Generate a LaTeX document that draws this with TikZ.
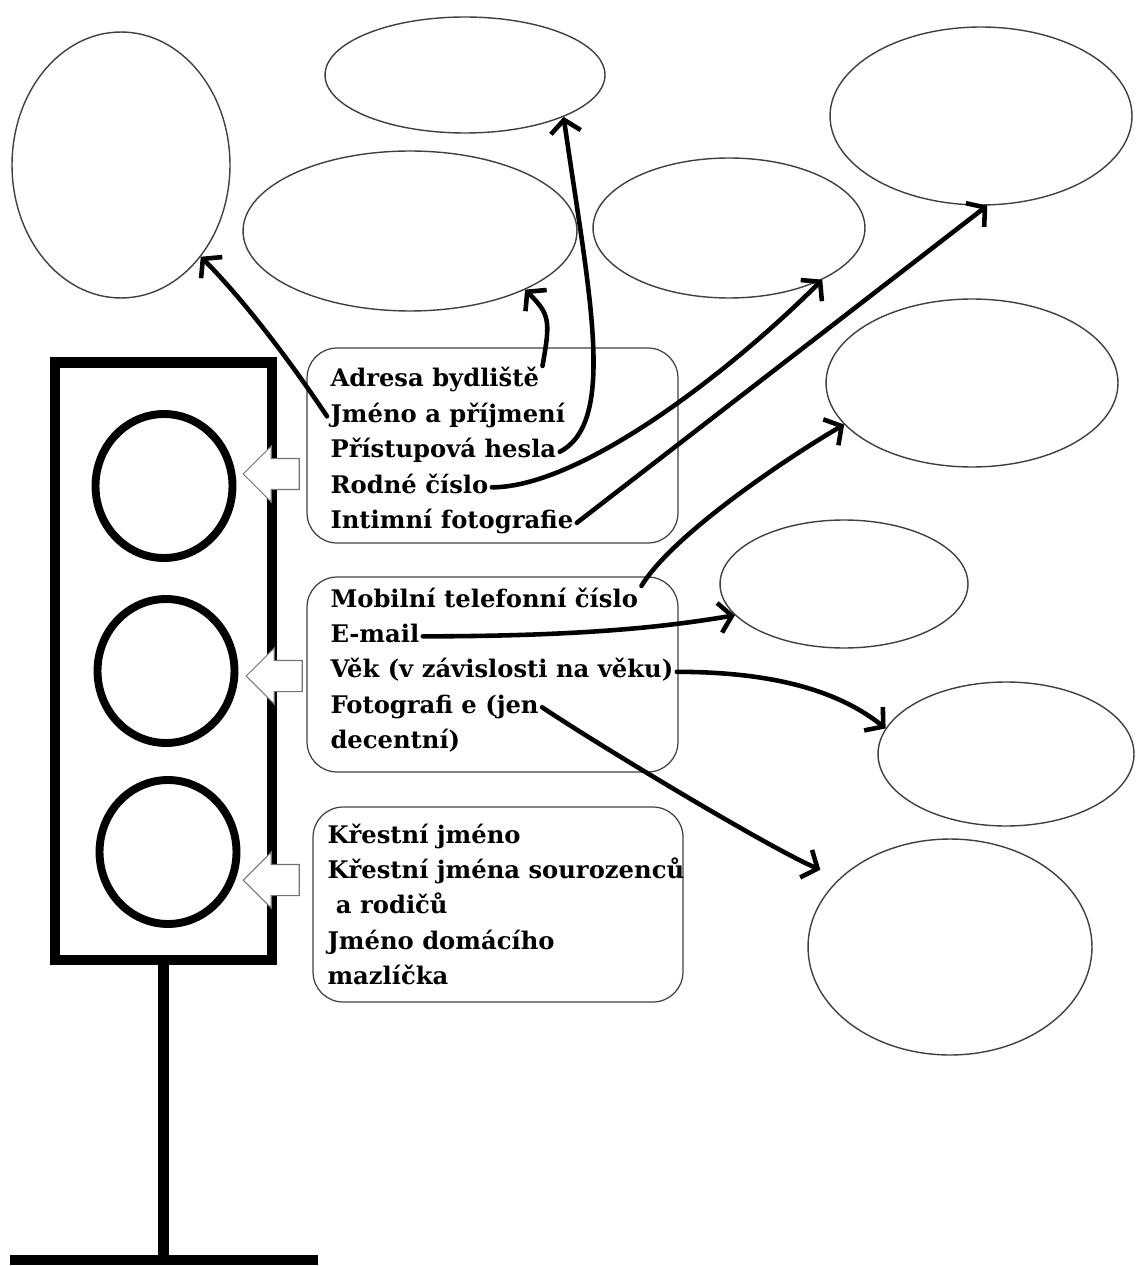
\documentclass[tikz,border=0pt]{standalone}
\usepackage{fontspec}
\setmainfont{DejaVu Serif}
\usetikzlibrary{positioning,shapes.geometric,shapes.arrows,arrows.meta}
\tikzset{bubble node/.style={ellipse, draw=black!75, line width=0.8pt, inner sep=0pt},
  lamp node/.style={ellipse, draw, line width=4.5pt, inner sep=0pt, minimum width=2.74cm, minimum height=2.88cm},
  hint node/.style={single arrow, shape border rotate=180, draw=black!55, fill=white, line width=0.6pt, inner xsep=0pt, inner ysep=0.3cm, single arrow head extend=0.25cm, single arrow tip angle=90, minimum height=1.12cm},
  info node/.style={rectangle, rounded corners=0.6cm, draw=black!75, line width=0.7pt, minimum width=7.42cm, minimum height=3.9cm},
  item node/.style={inner sep=0pt, outer sep=2pt, text height=10pt, text depth=3pt, font=\bfseries\fontsize{13.8}{16}\selectfont},
  link/.style={line width=2.6pt, line cap=round, -{Straight Barb[length=2.5mm,width=6mm]}},}

\begin{document}
\begin{tikzpicture}[x=0.02cm, y=-0.02cm, node distance=3.2pt]
        \useasboundingbox (0,0) rectangle (1135,1266);
        % Traffic light
        \node[draw, line width=6.2pt, inner sep=0pt, minimum width=4.34cm, minimum height=11.96cm] (frame) at (163.5,661) {};
        \node[lamp node] (top) at (164,486) {};
        \node[lamp node] (mid) at (166,671) {};
        \node[lamp node] (low) at (168,852) {};
        \node[hint node] (h1) at (279,474) {};
        \node[hint node] (h2) at (282,676) {};
        \node[hint node] (h3) at (279,880) {};
        \coordinate (foot) at (163.5,1260);
        \coordinate (baseL) at (10,1260);
        \coordinate (baseR) at (318,1260);
        \draw[line width=6pt] (frame.south) -- (foot);
        \draw[line width=5.6pt] (baseL) -- (baseR);
        % Boxes
        \node[info node] (box1) at (492.5,445.5) {};
        \node[info node] (box2) at (492.5,674.5) {};
        \node[info node, minimum width=7.4cm] (box3) at (498,904.5) {};
        % Items
        \node[item node, anchor=base west] (adresa) at (327,387) {Adresa bydliště};
        \node[item node, below=of adresa.south west, anchor=north west] (jmeno) {Jméno a příjmení};
        \node[item node, below=of jmeno.south west, anchor=north west] (hesla) {Přístupová hesla};
        \node[item node, below=of hesla.south west, anchor=north west] (rodne) {Rodné číslo};
        \node[item node, below=of rodne.south west, anchor=north west] (intim) {Intimní fotografie};
        \node[item node, anchor=base west] (mobil) at (327,607) {Mobilní telefonní číslo};
        \node[item node, below=of mobil.south west, anchor=north west] (email) {E-mail};
        \node[item node, below=of email.south west, anchor=north west] (vek) {Věk (v závislosti na věku)};
        \node[item node, below=of vek.south west, anchor=north west] (foto) {Fotografi e (jen};
        \node[item node, below=of foto.south west, anchor=north west] (decent) {decentní)};
        \node[item node, anchor=base west] (krest) at (324,843) {Křestní jméno};
        \node[item node, below=of krest.south west, anchor=north west] (sour) {Křestní jména sourozenců};
        \node[item node, below=of sour.south west, anchor=north west] (rodice) {\ a rodičů};
        \node[item node, below=of rodice.south west, anchor=north west] (domaci) {Jméno domácího};
        \node[item node, below=of domaci.south west, anchor=north west] (mazl) {mazlíčka};
        % Bubbles
        \node[bubble node, minimum width=4.36cm, minimum height=5.32cm] (e1) at (121,165) {};
        \node[bubble node, minimum width=5.6cm, minimum height=2.32cm] (e2) at (465,75) {};
        \node[bubble node, minimum width=6.68cm, minimum height=3.2cm] (e3) at (410,231) {};
        \node[bubble node, minimum width=5.44cm, minimum height=2.8cm] (e4) at (729,228) {};
        \node[bubble node, minimum width=6.04cm, minimum height=3.56cm] (e5) at (981,116) {};
        \node[bubble node, minimum width=5.84cm, minimum height=3.36cm] (e6) at (972,383) {};
        \node[bubble node, minimum width=4.96cm, minimum height=2.56cm] (e7) at (844,584) {};
        \node[bubble node, minimum width=5.12cm, minimum height=2.88cm] (e8) at (1006,754) {};
        \node[bubble node, minimum width=5.68cm, minimum height=4.32cm] (e9) at (950,947) {};
        % Paths
        \draw[link] (jmeno.west) .. controls +(-40,-60) and +(40,40) .. (e1.-49);
        \draw[link] (adresa.north east) .. controls +(8,-45) and +(25,25) .. (e3.-27);
        \draw[link] (hesla.east) .. controls +(58,-30) and +(25,175) .. (e2.-23);
        \draw[link] (rodne.east) .. controls +(90,0) and +(-90,90) .. (e4.-29);
        \draw[link] (intim.east) -- (e5.-86);
        \draw[link] (mobil.north east) .. controls +(30,-50) and +(-60,35) .. (e6.198);
        \draw[link] (email.east) .. controls +(170,0) and +(-60,10) .. (e7.196);
        \draw[link] (vek.east) .. controls +(90,0) and +(-50,-40) .. (e8.168);
        \draw[link, shorten >=12pt] (foto.east) .. controls +(60,40) and +(-70,-30) .. (e9.148);
    \end{tikzpicture}
\end{document}
